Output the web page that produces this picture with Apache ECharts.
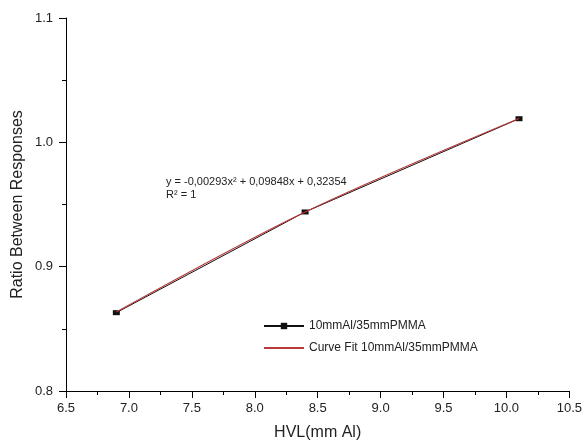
<!DOCTYPE html>
<html>
<head>
<meta charset="utf-8">
<script src="https://cdn.jsdelivr.net/npm/echarts@6/dist/echarts.min.js"></script>
<style>
  html, body { margin: 0; padding: 0; background: #fff; }
  #chart { width: 585px; height: 446px; }
</style>
</head>
<body>
<div id="chart"></div>
<script>
// data
const hvl = [6.9, 8.4, 10.1];
const ratio = [0.863, 0.944, 1.019];
const fitRatio = [0.8636, 0.9440, 1.0192];
const xTicks = [6.5, 7.0, 7.5, 8.0, 8.5, 9.0, 9.5, 10.0, 10.5];
const yTicks = [0.8, 0.9, 1.0, 1.1];

const FONT = 'Liberation Sans, Arial, sans-serif';
const chart = echarts.init(document.getElementById('chart'));

const axisCommon = {
  type: 'value',
  axisLine: { show: true, onZero: false, lineStyle: { color: '#000', width: 1 } },
  axisTick: { show: true, inside: false, length: 7, lineStyle: { color: '#000', width: 1 } },
  minorTick: { show: true, splitNumber: 2, length: 4, lineStyle: { color: '#000', width: 1 } },
  splitLine: { show: false },
  minorSplitLine: { show: false },
  nameLocation: 'middle',
  nameMoveOverlap: false,
  nameTextStyle: { fontFamily: FONT, fontSize: 16, color: '#222' }
};

chart.setOption({
  animation: false,
  backgroundColor: '#fff',
  grid: { left: 66, right: 14, top: 18, bottom: 53, containLabel: false },
  xAxis: Object.assign({}, axisCommon, {
    min: xTicks[0],
    max: xTicks[xTicks.length - 1],
    interval: 0.5,
    name: 'HVL(mm Al)',
    nameGap: 34,
    axisLabel: {
      margin: 11, fontFamily: FONT, fontSize: 13, color: '#222',
      formatter: v => v.toFixed(1)
    }
  }),
  yAxis: Object.assign({}, axisCommon, {
    min: yTicks[0],
    max: yTicks[yTicks.length - 1],
    interval: 0.1,
    name: 'Ratio Between Responses',
    nameGap: 40,
    axisLabel: {
      margin: 13, fontFamily: FONT, fontSize: 13, color: '#222',
      formatter: v => v.toFixed(1)
    }
  }),
  legend: {
    orient: 'vertical',
    left: 258,
    top: 315,
    itemWidth: 40,
    itemHeight: 8,
    itemGap: 10,
    textStyle: { fontFamily: FONT, fontSize: 12, color: '#222' },
    data: [
      { name: '10mmAl/35mmPMMA' },
      { name: 'Curve Fit 10mmAl/35mmPMMA', itemStyle: { opacity: 0 } }
    ]
  },
  graphic: [
    {
      type: 'text', left: 166, top: 175,
      style: {
        text: 'y = -0,00293x² + 0,09848x + 0,32354\nR² = 1',
        fontFamily: FONT, fontSize: 11, lineHeight: 13, fill: '#222'
      }
    }
  ],
  series: [
    {
      name: '10mmAl/35mmPMMA',
      type: 'line',
      data: hvl.map((x, i) => [x, ratio[i]]),
      symbol: 'rect',
      symbolSize: [7, 5],
      itemStyle: { color: '#111' },
      lineStyle: { color: '#111', width: 1 },
      z: 2
    },
    {
      name: 'Curve Fit 10mmAl/35mmPMMA',
      type: 'line',
      data: hvl.map((x, i) => [x, fitRatio[i]]),
      smooth: 0.3,
      showSymbol: false,
      symbol: 'none',
      itemStyle: { color: '#b83a3a' },
      lineStyle: { color: '#b83a3a', width: 1.2 },
      z: 3
    }
  ]
});
</script>
</body>
</html>
